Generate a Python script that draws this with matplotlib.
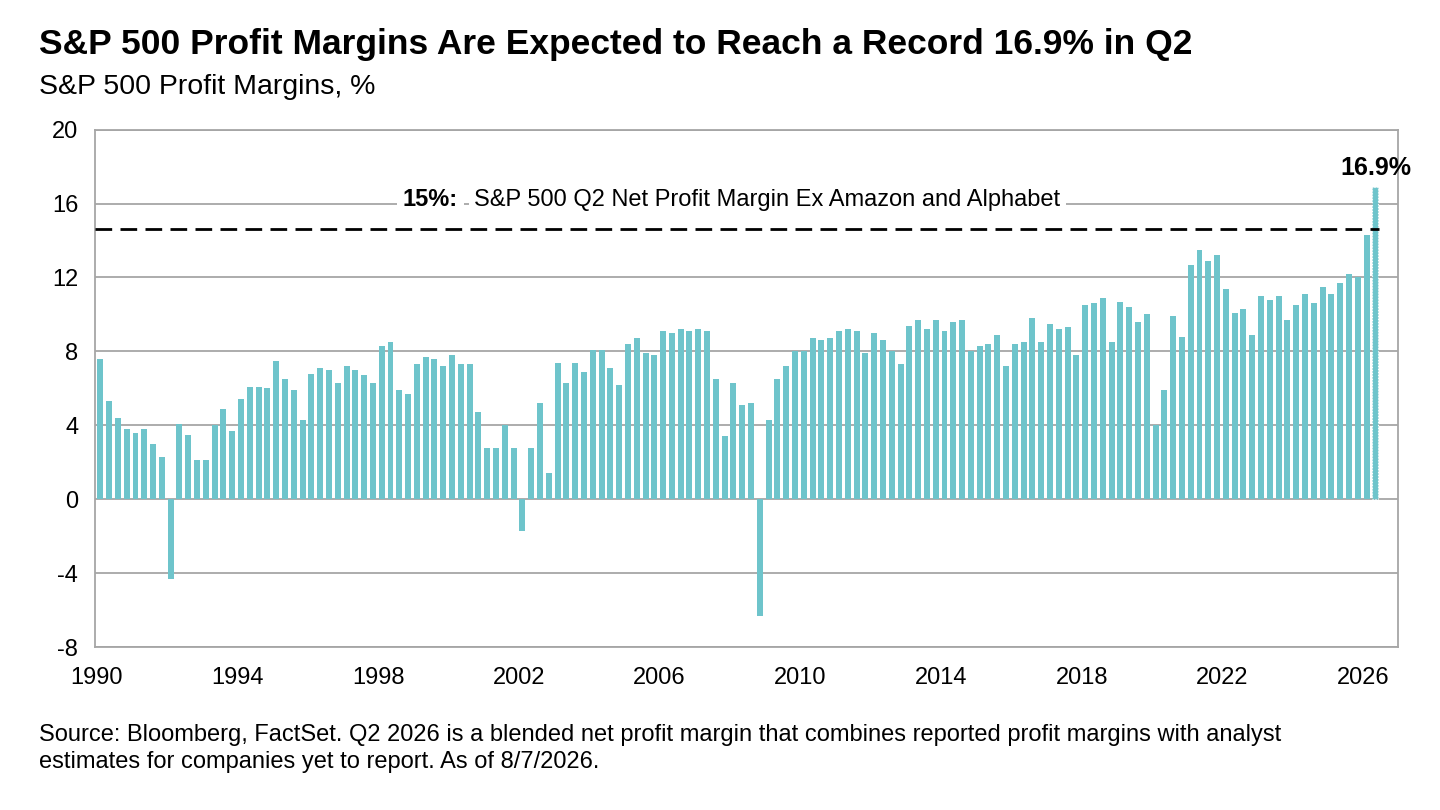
import matplotlib
matplotlib.use("Agg")
import matplotlib.pyplot as plt
from matplotlib.ticker import FuncFormatter
import numpy as np

plt.rcParams['font.family'] = ['Liberation Sans', 'DejaVu Sans']

years = list(range(1990, 2027))
margins = [
    7.6, 5.3, 4.4, 3.8,  3.6, 3.8, 3.0, 2.3,  -4.3, 4.1, 3.5, 2.1,  2.1, 4.0, 4.9, 3.7,
    5.4, 6.1, 6.1, 6.0,  7.5, 6.5, 5.9, 4.3,  6.8, 7.1, 7.0, 6.3,  7.2, 7.0, 6.7, 6.3,
    8.3, 8.5, 5.9, 5.7,  7.3, 7.7, 7.6, 7.2,  7.8, 7.3, 7.3, 4.7,  2.8, 2.8, 4.0, 2.8,
    -1.7, 2.8, 5.2, 1.4,  7.4, 6.3, 7.4, 6.9,  8.1, 8.1, 7.1, 6.2,  8.4, 8.7, 7.9, 7.8,
    9.1, 9.0, 9.2, 9.1,  9.2, 9.1, 6.5, 3.4,  6.3, 5.1, 5.2, -6.3,  4.3, 6.5, 7.2, 8.0,
    8.0, 8.7, 8.6, 8.7,  9.1, 9.2, 9.1, 7.9,  9.0, 8.6, 8.0, 7.3,  9.4, 9.7, 9.2, 9.7,
    9.1, 9.6, 9.7, 8.0,  8.3, 8.4, 8.9, 7.2,  8.4, 8.5, 9.8, 8.5,  9.5, 9.2, 9.3, 7.8,
    10.5, 10.6, 10.9, 8.5,  10.7, 10.4, 9.6, 10.0,  4.0, 5.9, 9.9, 8.8,  12.7, 13.5, 12.9, 13.2,
    11.4, 10.1, 10.3, 8.9,  11.0, 10.8, 11.0, 9.7,  10.5, 11.1, 10.6, 11.5,  11.1, 11.7, 12.2, 12.0,
    14.3, 16.9,
]
reference_level = 14.6
reference_bold = "15%:"
reference_label = "S&P 500 Q2 Net Profit Margin Ex Amazon and Alphabet"
tick_years = list(range(1990, 2027, 4))
y_ticks = [-8, -4, 0, 4, 8, 12, 16, 20]

x = np.array([1990 + i * 0.25 for i in range(len(margins))])
color = '#6ec4cb'

fig = plt.figure(figsize=(14.4, 8.1), dpi=100)
ax = fig.add_axes([0.066, 0.201, 0.905, 0.639])
ax.bar(x[:-1] + 0.1, margins[:-1], width=0.17, color=color, zorder=3)
ax.bar(x[-1:] + 0.1, margins[-1:], width=0.17, color=color, zorder=3,
       edgecolor='white', linewidth=0.8, linestyle=':')
ax.set_xlim(1989.95, 2027.0)
ax.set_ylim(-8, 20)
ax.set_yticks(y_ticks)
ax.yaxis.set_major_formatter(FuncFormatter(lambda v, p: f"{int(v)}"))
ax.set_xticks(tick_years)
ax.set_xticklabels([str(y) for y in tick_years])
ax.yaxis.grid(True, color='#a6a6a6', linewidth=1.3, zorder=0)
for s in ax.spines.values():
    s.set_color('#a6a6a6'); s.set_linewidth(1.3)
ax.tick_params(length=0, labelsize=17)
ax.tick_params(axis='x', pad=14)
ax.tick_params(axis='y', pad=12)
ax.axhline(reference_level, xmin=0.0, xmax=0.985, color='black', linestyle=(0, (6, 3)),
           linewidth=2, zorder=4)
ax.text(2000.73, 16.2, reference_label, ha='left', va='center', fontsize=17, zorder=5,
        bbox=dict(facecolor='white', edgecolor='none', pad=4))
ax.text(1998.7, 16.2, reference_bold, ha='left', va='center', fontsize=17,
        fontweight='bold', zorder=6,
        bbox=dict(facecolor='white', edgecolor='none', pad=4))
ax.text(x[-1] + 0.1, margins[-1] + 0.4, f"{margins[-1]}%", ha='center', va='bottom',
        fontsize=18, fontweight='bold', zorder=5)

fig.text(0.027, 0.945, "S&P 500 Profit Margins Are Expected to Reach a Record 16.9% in Q2",
         fontsize=25.5, fontweight='bold', va='center')
fig.text(0.027, 0.893, "S&P 500 Profit Margins, %", fontsize=20.5, va='center')
fig.text(0.027, 0.076, "Source: Bloomberg, FactSet. Q2 2026 is a blended net profit margin that combines reported profit margins with analyst\nestimates for companies yet to report. As of 8/7/2026.",
         fontsize=17, va='center', linespacing=1.3)
fig.savefig("out.png", dpi=100, facecolor='white')
